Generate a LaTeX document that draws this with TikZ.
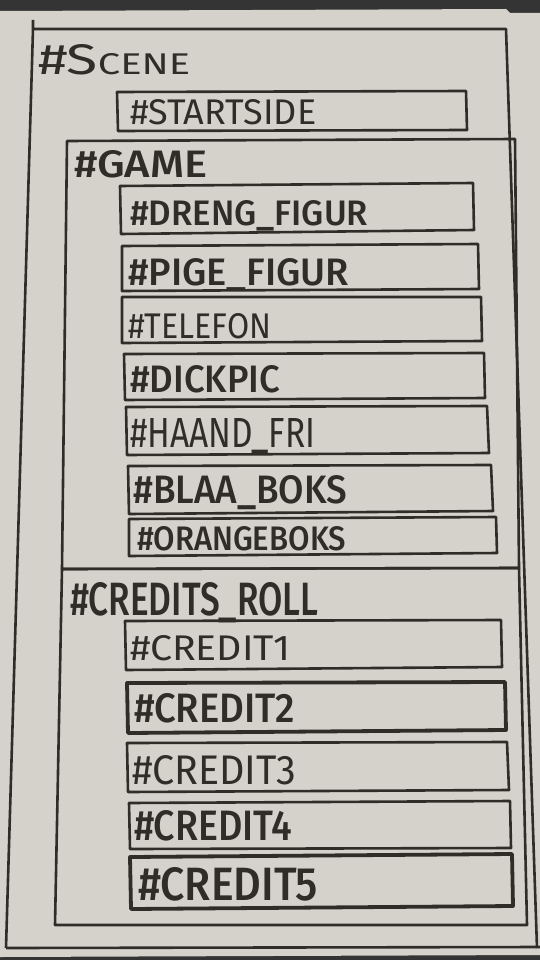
\documentclass[tikz,border=0pt]{standalone}
\usepackage{fontspec}
\setmainfont{Fira Sans Medium}
\newfontfamily\thinf{Fira Sans}
\usepackage{graphicx}
\definecolor{paper}{RGB}{212,210,203}
\definecolor{ink}{RGB}{48,45,40}
\definecolor{dark}{RGB}{52,52,52}
\tikzset{
  frame/.style={draw=ink, line width=2.6pt, line join=round},
  thickframe/.style={frame, line width=3.8pt},
  lbl/.style={anchor=base west, inner sep=0pt, text=ink}
}
\newcommand\fitwh[3]{\resizebox{#1pt}{#2pt}{#3}}
\begin{document}
\begin{tikzpicture}[x=1pt,y=-1pt]
\useasboundingbox (0,0) rectangle (540,960);
\fill[dark] (0,0) rectangle (540,960);
\fill[paper] (0,11) -- (506,9) -- (510,13) -- (540,13) -- (540,955) -- (0,957) -- cycle;

% outer boxes
\draw[frame] (33,20) -- (33,29) -- (506,29) -- (537,948);
\draw[frame] (33,29) -- (6,948);
\draw[frame] (6,948) -- (540,947);
\draw[frame] (67,141) -- (515,139) -- (519,568) -- (62,569) -- cycle;
\draw[frame] (62,569) -- (519,568) -- (527,925) -- (55,925) -- cycle;

% inner boxes
\draw[frame] (117,92) -- (466,91) -- (467,130) -- (118,131) -- cycle;
\draw[frame] (120,186) -- (473,183) -- (474,230) -- (121,234) -- cycle;
\draw[frame] (122,246) -- (478,244) -- (479,289) -- (122,291) -- cycle;
\draw[frame] (122,297) -- (481,297) -- (482,341) -- (122,343) -- cycle;
\draw[frame] (124,354) -- (484,353) -- (485,398) -- (125,400) -- cycle;
\draw[frame] (126,407) -- (487,406) -- (489,453) -- (127,455) -- cycle;
\draw[frame] (128,466) -- (491,465) -- (493,511) -- (129,514) -- cycle;
\draw[frame] (129,519) -- (496,517) -- (497,553) -- (129,556) -- cycle;
\draw[frame] (125,621) -- (501,620) -- (502,667) -- (126,670) -- cycle;
\draw[thickframe] (127,683) -- (505,682) -- (506,730) -- (128,733) -- cycle;
\draw[frame] (127,743) -- (507,742) -- (509,790) -- (128,792) -- cycle;
\draw[frame] (129,803) -- (510,801) -- (511,848) -- (130,849) -- cycle;
\draw[thickframe] (130,857) -- (512,854) -- (513,906) -- (131,909) -- cycle;

% labels
\node[lbl] (scene) at (38,75) {\fitwh{152}{30}{\thinf\#S{\fontsize{7}{7}\selectfont CENE}}};
\node[lbl] (startside) at (130,125) {\fitwh{186}{25}{\thinf\#STARTSIDE}};
\node[lbl] (game) at (74,177) {\fitwh{133}{27}{\#GAME}};
\node[lbl] (dreng) at (130,225) {\fitwh{238}{25}{\#DRENG\_FIGUR}};
\node[lbl] (pige) at (128,285) {\fitwh{221}{27}{\#PIGE\_FIGUR}};
\node[lbl] (telefon) at (128,338) {\fitwh{143}{25}{\thinf\#TELEFON}};
\node[lbl] (dickpic) at (130,392) {\fitwh{150}{27}{\#DICKPIC}};
\node[lbl] (haand) at (130,447) {\fitwh{185}{29}{\thinf\#HAAND\_FRI}};
\node[lbl] (blaa) at (133,503) {\fitwh{214}{28}{\#BLAA\_BOKS}};
\node[lbl] (orange) at (137,550) {\fitwh{209}{24}{\#ORANGEBOKS}};
\node[lbl] (credits) at (70,615) {\fitwh{248}{33}{\#CREDITS\_ROLL}};
\node[lbl] (c1) at (130,660) {\fitwh{160}{25}{\thinf\#CREDIT1}};
\node[lbl] (c2) at (134,722) {\fitwh{161}{29}{\#CREDIT2}};
\node[lbl] (c3) at (132,784) {\fitwh{164}{29}{\thinf\#CREDIT3}};
\node[lbl] (c4) at (134,840) {\fitwh{158}{30}{\#CREDIT4}};
\node[lbl] (c5) at (138,900) {\fitwh{180}{33}{\#CREDIT5}};
\end{tikzpicture}
\end{document}
